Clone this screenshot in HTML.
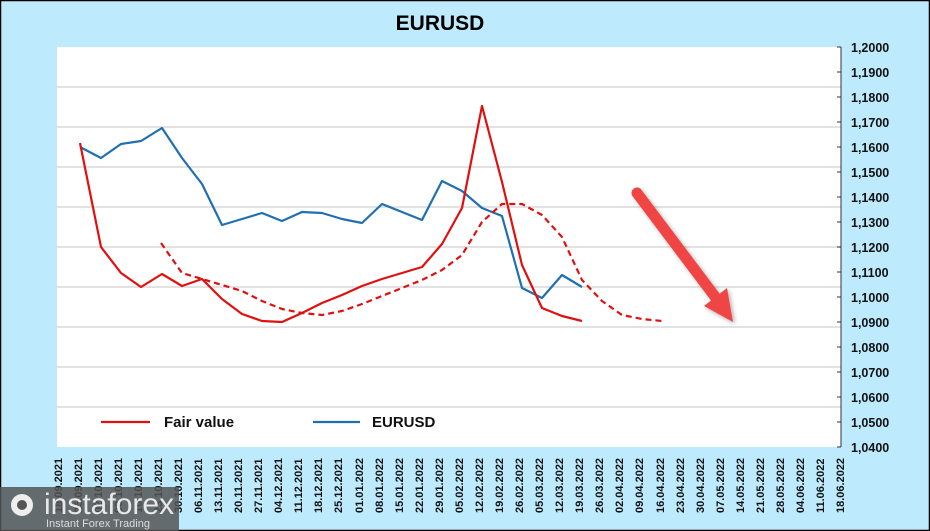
<!DOCTYPE html>
<html><head><meta charset="utf-8"><style>
html,body{margin:0;padding:0;background:#bdebfd;}
svg{display:block;}
</style></head><body>
<svg width="930" height="531" xmlns="http://www.w3.org/2000/svg" font-family="Liberation Sans, sans-serif">
<defs>
<filter id="sh" x="-20%" y="-20%" width="140%" height="140%"><feDropShadow dx="2" dy="2" stdDeviation="2" flood-color="#000" flood-opacity="0.3"/></filter>
</defs>
<rect x="0.5" y="0.5" width="929" height="530" fill="#bdebfd" stroke="#000" stroke-width="1.5"/>
<text x="440" y="30" font-size="21" font-weight="bold" text-anchor="middle" fill="#000">EURUSD</text>
<rect x="57" y="47" width="784" height="400" fill="#fff"/>
<g stroke="#d9d9d9" stroke-width="1.5">
<line x1="57" y1="87" x2="841" y2="87"/><line x1="57" y1="127" x2="841" y2="127"/><line x1="57" y1="167" x2="841" y2="167"/><line x1="57" y1="207" x2="841" y2="207"/><line x1="57" y1="247" x2="841" y2="247"/><line x1="57" y1="287" x2="841" y2="287"/><line x1="57" y1="327" x2="841" y2="327"/><line x1="57" y1="367" x2="841" y2="367"/><line x1="57" y1="407" x2="841" y2="407"/>
</g>
<line x1="841" y1="47" x2="841" y2="447" stroke="#333" stroke-width="1"/>
<g stroke="#333" stroke-width="1">
<line x1="837" y1="47" x2="841" y2="47"/><line x1="837" y1="72" x2="841" y2="72"/><line x1="837" y1="97" x2="841" y2="97"/><line x1="837" y1="122" x2="841" y2="122"/><line x1="837" y1="147" x2="841" y2="147"/><line x1="837" y1="172" x2="841" y2="172"/><line x1="837" y1="197" x2="841" y2="197"/><line x1="837" y1="222" x2="841" y2="222"/><line x1="837" y1="247" x2="841" y2="247"/><line x1="837" y1="272" x2="841" y2="272"/><line x1="837" y1="297" x2="841" y2="297"/><line x1="837" y1="322" x2="841" y2="322"/><line x1="837" y1="347" x2="841" y2="347"/><line x1="837" y1="372" x2="841" y2="372"/><line x1="837" y1="397" x2="841" y2="397"/><line x1="837" y1="422" x2="841" y2="422"/><line x1="837" y1="447" x2="841" y2="447"/>
</g>
<g font-size="12.5" font-weight="bold" fill="#111">
<text x="851" y="52">1,2000</text><text x="851" y="77">1,1900</text><text x="851" y="102">1,1800</text><text x="851" y="127">1,1700</text><text x="851" y="152">1,1600</text><text x="851" y="177">1,1500</text><text x="851" y="202">1,1400</text><text x="851" y="227">1,1300</text><text x="851" y="252">1,1200</text><text x="851" y="277">1,1100</text><text x="851" y="302">1,1000</text><text x="851" y="327">1,0900</text><text x="851" y="352">1,0800</text><text x="851" y="377">1,0700</text><text x="851" y="402">1,0600</text><text x="851" y="427">1,0500</text><text x="851" y="452">1,0400</text>
</g>
<polyline fill="none" stroke="#1f6fb2" stroke-width="2.2" stroke-linejoin="round" points="80,147 101,158 121,144 141,141 162,128 182,158 202,184 222,225 242,219 262,213 282,221 302,212 322,213 342,219 362,223 382,204 402,212 422,220 442,181 462,191 482,208 502,216 522,288 542,298 562,275 582,287"/>
<polyline fill="none" stroke="#e01010" stroke-width="2.2" stroke-linejoin="round" points="80,143 101,247 121,273 141,287 162,274 182,286 202,279 222,299 242,314 262,321 282,322 302,313 322,303 342,295 362,286 382,279 402,273 422,267 442,244 462,208 482,106 502,182 522,265 542,308 562,316 582,321"/>
<polyline fill="none" stroke="#e01010" stroke-width="2.2" stroke-dasharray="6,4" stroke-linejoin="round" points="161,243 182,273 202,279 222,285 242,291 262,301 282,309 302,313 322,315 342,311 362,304 382,296 402,288 422,280 442,270 462,255 482,222 502,204 522,204 542,215 562,237 582,280 602,301 622,315 642,319 662,321"/>
<g filter="url(#sh)">
<line x1="637" y1="193" x2="716" y2="298" stroke="#f04545" stroke-width="11" stroke-linecap="round"/>
<polygon points="704,306 727,288 733,322" fill="#f04545"/>
</g>
<line x1="101" y1="422" x2="150" y2="422" stroke="#e01010" stroke-width="2.2"/>
<text x="164" y="427" font-size="15" font-weight="bold" fill="#111">Fair value</text>
<line x1="313" y1="422" x2="360" y2="422" stroke="#1f6fb2" stroke-width="2.2"/>
<text x="372" y="427" font-size="15" font-weight="bold" fill="#111">EURUSD</text>
<g font-size="11" font-weight="bold" fill="#111">
<text transform="translate(62,513) rotate(-90)">18.09.2021</text>
<text transform="translate(82,513) rotate(-90)">25.09.2021</text>
<text transform="translate(102,513) rotate(-90)">02.10.2021</text>
<text transform="translate(122,513) rotate(-90)">09.10.2021</text>
<text transform="translate(142,513) rotate(-90)">16.10.2021</text>
<text transform="translate(162,513) rotate(-90)">23.10.2021</text>
<text transform="translate(182,513) rotate(-90)">30.10.2021</text>
<text transform="translate(202,513) rotate(-90)">06.11.2021</text>
<text transform="translate(222,513) rotate(-90)">13.11.2021</text>
<text transform="translate(242,513) rotate(-90)">20.11.2021</text>
<text transform="translate(262,513) rotate(-90)">27.11.2021</text>
<text transform="translate(282,513) rotate(-90)">04.12.2021</text>
<text transform="translate(302,513) rotate(-90)">11.12.2021</text>
<text transform="translate(322,513) rotate(-90)">18.12.2021</text>
<text transform="translate(342,513) rotate(-90)">25.12.2021</text>
<text transform="translate(363,513) rotate(-90)">01.01.2022</text>
<text transform="translate(383,513) rotate(-90)">08.01.2022</text>
<text transform="translate(403,513) rotate(-90)">15.01.2022</text>
<text transform="translate(423,513) rotate(-90)">22.01.2022</text>
<text transform="translate(443,513) rotate(-90)">29.01.2022</text>
<text transform="translate(463,513) rotate(-90)">05.02.2022</text>
<text transform="translate(483,513) rotate(-90)">12.02.2022</text>
<text transform="translate(503,513) rotate(-90)">19.02.2022</text>
<text transform="translate(523,513) rotate(-90)">26.02.2022</text>
<text transform="translate(543,513) rotate(-90)">05.03.2022</text>
<text transform="translate(563,513) rotate(-90)">12.03.2022</text>
<text transform="translate(583,513) rotate(-90)">19.03.2022</text>
<text transform="translate(603,513) rotate(-90)">26.03.2022</text>
<text transform="translate(623,513) rotate(-90)">02.04.2022</text>
<text transform="translate(643,513) rotate(-90)">09.04.2022</text>
<text transform="translate(664,513) rotate(-90)">16.04.2022</text>
<text transform="translate(684,513) rotate(-90)">23.04.2022</text>
<text transform="translate(704,513) rotate(-90)">30.04.2022</text>
<text transform="translate(724,513) rotate(-90)">07.05.2022</text>
<text transform="translate(744,513) rotate(-90)">14.05.2022</text>
<text transform="translate(764,513) rotate(-90)">21.05.2022</text>
<text transform="translate(784,513) rotate(-90)">28.05.2022</text>
<text transform="translate(804,513) rotate(-90)">04.06.2022</text>
<text transform="translate(824,513) rotate(-90)">11.06.2022</text>
<text transform="translate(844,513) rotate(-90)">18.06.2022</text>
</g>
<rect x="0" y="487" width="179" height="44" fill="#555" fill-opacity="0.85"/>
<circle cx="22" cy="505" r="11" fill="#eee"/>
<circle cx="22" cy="505" r="5" fill="#555"/>
<text x="44" y="514" font-size="30" fill="#e8e8e8">instaforex</text>
<text x="46" y="527" font-size="11" fill="#ddd">Instant Forex Trading</text>
</svg>
</body></html>
